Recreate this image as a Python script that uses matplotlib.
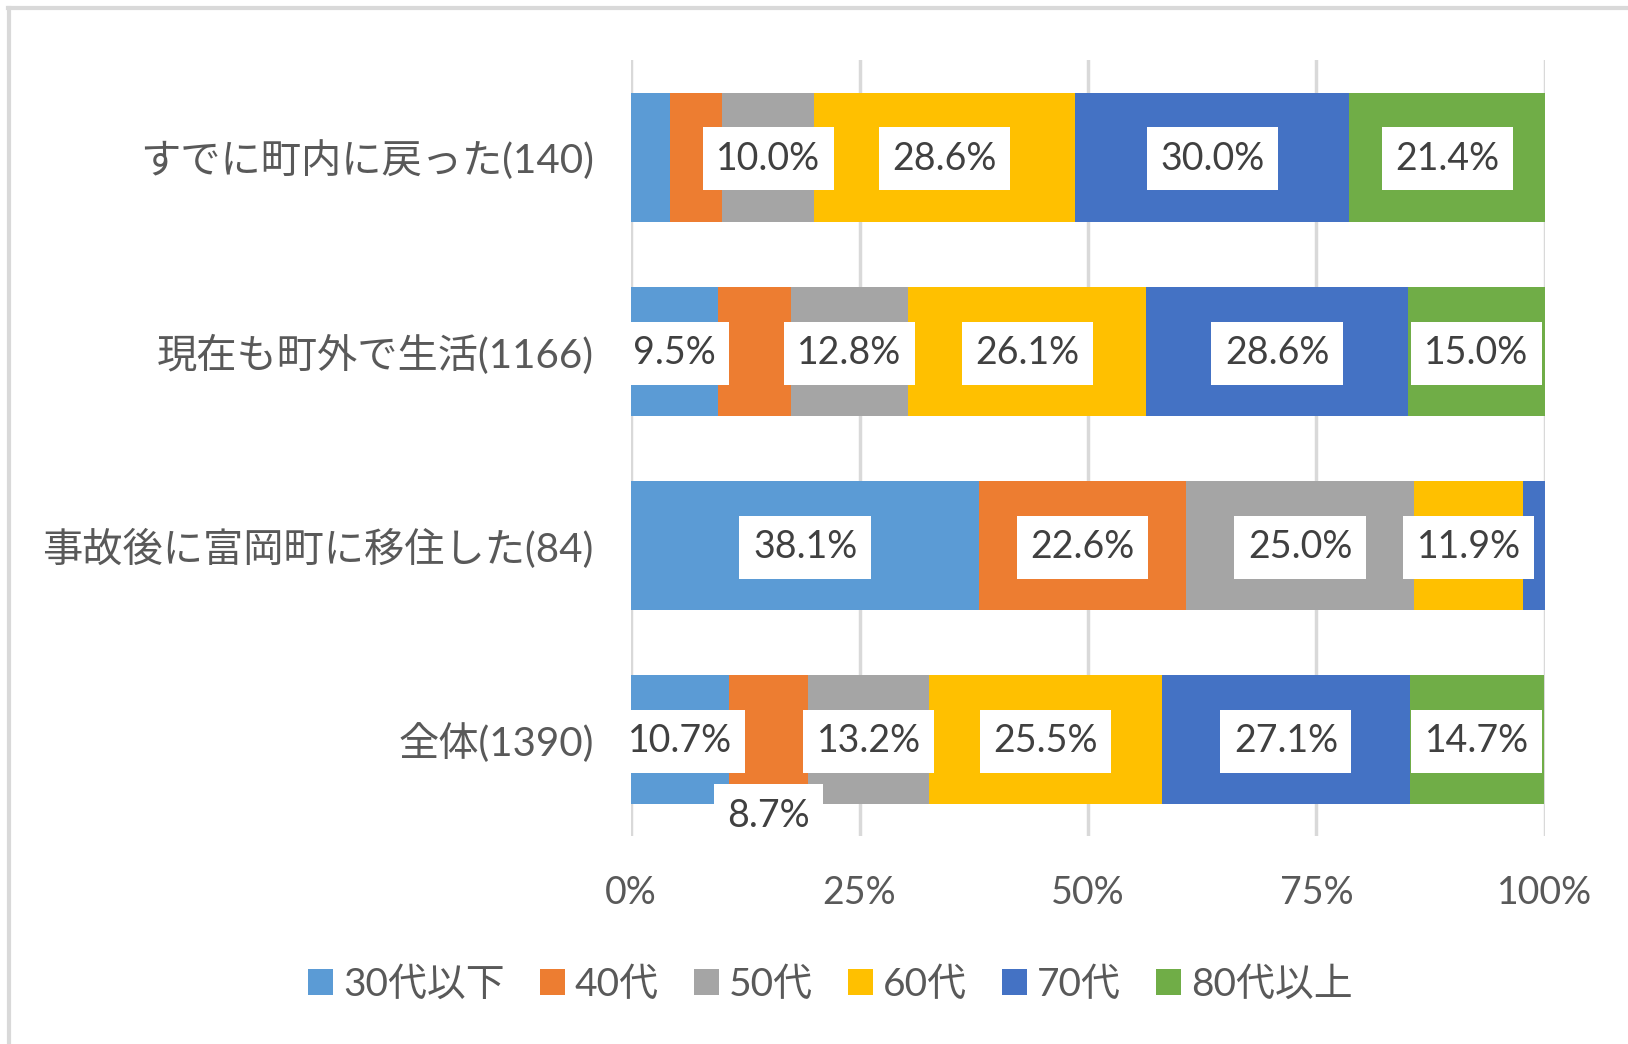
import matplotlib.pyplot as plt
from matplotlib.lines import Line2D
from matplotlib.patches import Patch

plt.rcParams['font.family'] = ['Lato', 'Noto Sans CJK JP', 'DejaVu Sans']

categories = ['すでに町内に戻った(140)', '現在も町外で生活(1166)',
              '事故後に富岡町に移住した(84)', '全体(1390)']
series = ['30代以下', '40代', '50代', '60代', '70代', '80代以上']
colors = ['#5B9BD5', '#ED7D31', '#A5A5A5', '#FFC000', '#4472C4', '#70AD47']

# percent per category, one list per age band
age_30 = [4.3, 9.5, 38.1, 10.7]
age_40 = [5.7, 8.0, 22.6, 8.7]
age_50 = [10.0, 12.8, 25.0, 13.2]
age_60 = [28.6, 26.1, 11.9, 25.5]
age_70 = [30.0, 28.6, 2.4, 27.1]
age_80 = [21.4, 15.0, 0.0, 14.7]
values = [age_30, age_40, age_50, age_60, age_70, age_80]

# labels that Excel did not show (row, series)
hidden = {(0, 0), (0, 1), (1, 1), (2, 4), (2, 5)}

fig = plt.figure(figsize=(16.28, 10.44), dpi=100)
ax = fig.add_axes([0.3876, 0.199, 0.5614, 0.7435])

y = list(range(len(categories)))
left = [0.0] * len(categories)
for s, (name, vals, c) in enumerate(zip(series, values, colors)):
    ax.barh(y, vals, left=left, height=0.665, color=c, label=name, zorder=2)
    for i, v in enumerate(vals):
        if (i, s) in hidden:
            continue
        cy = y[i] + 0.01
        # the small 40代 label of 全体 was pushed below the bar
        if i == 3 and s == 1:
            cy += 0.385
        ax.text(left[i] + v / 2, cy, f'{v:.1f}%', ha='center', va='center',
                fontsize=27, color='#404040', zorder=4,
                bbox=dict(boxstyle='square,pad=0.36', fc='white', ec='none'))
    left = [l + v for l, v in zip(left, vals)]

ax.set_xlim(0, 100)
ax.set_ylim(3.5, -0.5)
ax.set_xticks([0, 25, 50, 75, 100])
ax.set_xticklabels(['0%', '25%', '50%', '75%', '100%'])
ax.set_yticks(y)
ax.set_yticklabels(categories)
ax.tick_params(axis='both', length=0, labelcolor='#595959')
ax.tick_params(axis='x', pad=28, labelsize=27)
ax.tick_params(axis='y', pad=27, labelsize=29)
ax.grid(axis='x', color='#D9D9D9', linewidth=2.5, zorder=0)
ax.set_axisbelow(True)
for sp in ax.spines.values():
    sp.set_visible(False)

handles = [Patch(facecolor=c, label=n) for n, c in zip(series, colors)]
fig.legend(handles=handles, loc='center', bbox_to_anchor=(0.51, 0.057), ncol=6,
           frameon=False, fontsize=28, labelcolor='#595959',
           handlelength=0.65, handleheight=0.65, handletextpad=0.25,
           columnspacing=0.9)

# chart area border (top and left visible in the crop)
fig.add_artist(Line2D([0.005, 1.0], [0.9925, 0.9925], color='#D9D9D9', linewidth=3))
fig.add_artist(Line2D([0.0055, 0.0055], [0.0, 0.9925], color='#D9D9D9', linewidth=3))

fig.savefig('out.png', dpi=100)
